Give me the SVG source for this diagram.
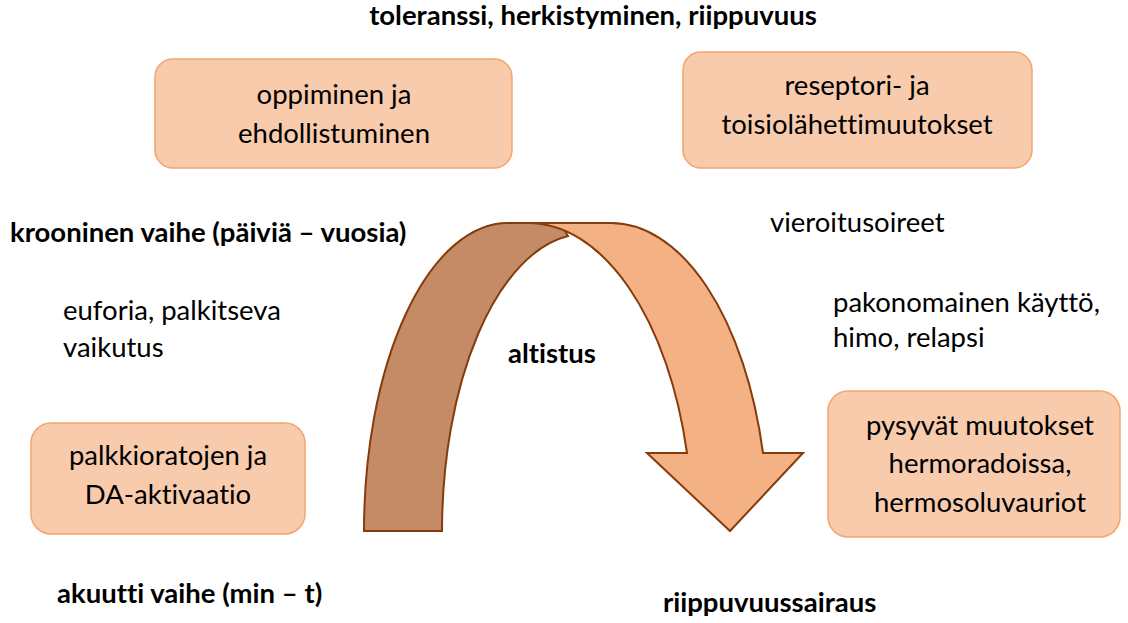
<svg xmlns="http://www.w3.org/2000/svg" width="1128" height="623" viewBox="0 0 1128 623">
<style>
.box{fill:#F8CBAD;stroke:#F4A46C;stroke-width:1.5}
.t{font-family:Lato,"Liberation Sans",sans-serif;font-size:27.5px;fill:#000;font-variant-ligatures:none}
.c{text-anchor:middle}
.b{font-family:Lato,"Liberation Sans",sans-serif;font-size:27.5px;font-weight:bold;fill:#000;font-variant-ligatures:none}
.band{stroke:#843C0C;stroke-width:2;stroke-linejoin:miter}
</style>
<rect width="1128" height="623" fill="#fff"/>
<g id="connectors">
<path id="arrow-back" class="band" fill="#C48B66" d="M364,531 A144,308 0 0 1 508,223 L560,223 L568,236 A143,298 0 0 0 442,531 Z"/>
<path id="arrow-front" class="band" fill="#F4B183" d="M528,223 L610,223 A157,308 0 0 1 763,453 L803,453 L730,531 L647,453 L687,453 A164,308 0 0 0 528,223 Z"/>
</g>
<g id="title"><text class="b c" x="593" y="25">toleranssi, herkistyminen, riippuvuus</text></g>
<g id="node-oppiminen">
<rect class="box" x="155" y="59" width="357" height="109" rx="18"/>
<text class="t c" x="334" y="104">oppiminen ja</text>
<text class="t c" x="334" y="143">ehdollistuminen</text>
</g>
<g id="node-reseptori">
<rect class="box" x="683" y="52" width="349" height="116" rx="18"/>
<text class="t c" x="857" y="95">reseptori- ja</text>
<text class="t c" x="857" y="134">toisiolähettimuutokset</text>
</g>
<g id="label-krooninen"><text class="b" x="10" y="242">krooninen vaihe (päiviä – vuosia)</text></g>
<g id="label-vieroitus"><text class="t" x="770" y="232">vieroitusoireet</text></g>
<g id="label-euforia">
<text class="t" x="63" y="320">euforia, palkitseva</text>
<text class="t" x="63" y="357">vaikutus</text>
</g>
<g id="label-altistus"><text class="b" x="508" y="363">altistus</text></g>
<g id="label-pakonomainen">
<text class="t" x="833" y="312">pakonomainen käyttö,</text>
<text class="t" x="833" y="347">himo, relapsi</text>
</g>
<g id="node-palkkio">
<rect class="box" x="31" y="423" width="274" height="111" rx="20"/>
<text class="t c" x="168" y="465">palkkioratojen ja</text>
<text class="t c" x="168" y="504">DA-aktivaatio</text>
</g>
<g id="node-pysyvat">
<rect class="box" x="828" y="391" width="292" height="146" rx="20"/>
<text class="t c" x="980" y="435">pysyvät muutokset</text>
<text class="t c" x="980" y="473">hermoradoissa,</text>
<text class="t c" x="980" y="512">hermosoluvauriot</text>
</g>
<g id="label-akuutti"><text class="b" x="57" y="603">akuutti vaihe (min – t)</text></g>
<g id="label-riippuvuussairaus"><text class="b" x="663" y="612">riippuvuussairaus</text></g>
</svg>
